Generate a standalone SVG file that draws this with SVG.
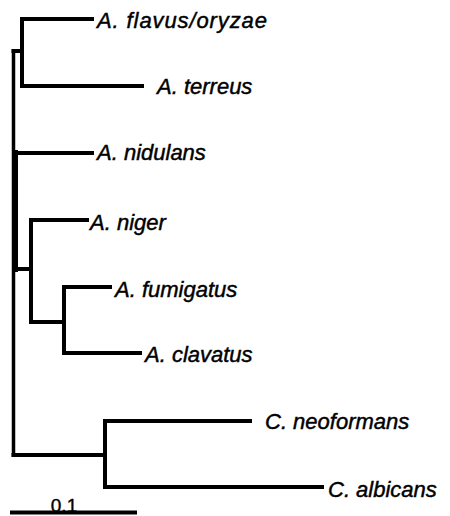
<svg xmlns="http://www.w3.org/2000/svg" width="450" height="516" viewBox="0 0 450 516">
<style>
.br{stroke:#000;stroke-width:4;fill:none;stroke-linecap:square;stroke-linejoin:miter}
.lb{font-family:"Liberation Sans",Arial,sans-serif;font-style:italic;font-size:22px;fill:#000;stroke:#000;stroke-width:0.45}
.sc{font-family:"Liberation Sans",Arial,sans-serif;font-size:19px;fill:#000;stroke:#000;stroke-width:0.4}
</style>
<rect width="450" height="516" fill="#fff"/>
<g id="connectors">
<path class="br" d="M22,19 H92 M22,19 V86 H142"/>
<path class="br" d="M13.5,51 H22"/>
<path class="br" style="stroke-width:3.5" d="M13.5,51 V455"/>
<path class="br" style="stroke-width:6" d="M15,153 V269"/>
<path class="br" d="M15,153 H92"/>
<path class="br" d="M15,269 H31 M31,220 V322 M31,220 H87 M31,322 H64"/>
<path class="br" d="M64,287 V353 M64,287 H110 M64,353 H140"/>
<path class="br" d="M13.5,455 H105 M105,421 V487 M105,421 H250 M105,487 H322"/>
</g>
<g id="n-flavus"><text class="lb" x="97" y="28" textLength="170" lengthAdjust="spacing">A. flavus/oryzae</text></g>
<g id="n-terreus"><text class="lb" x="157" y="94">A. terreus</text></g>
<g id="n-nidulans"><text class="lb" x="97" y="160">A. nidulans</text></g>
<g id="n-niger"><text class="lb" x="90" y="230">A. niger</text></g>
<g id="n-fumigatus"><text class="lb" x="115" y="297">A. fumigatus</text></g>
<g id="n-clavatus"><text class="lb" x="145" y="362">A. clavatus</text></g>
<g id="n-neoformans"><text class="lb" x="265" y="429">C. neoformans</text></g>
<g id="n-albicans"><text class="lb" x="328" y="497">C. albicans</text></g>
<g id="scale">
<text class="sc" x="64" y="512" text-anchor="middle">0.1</text>
<path class="br" style="stroke-linecap:butt" d="M10,512.5 H137"/>
</g>
</svg>
